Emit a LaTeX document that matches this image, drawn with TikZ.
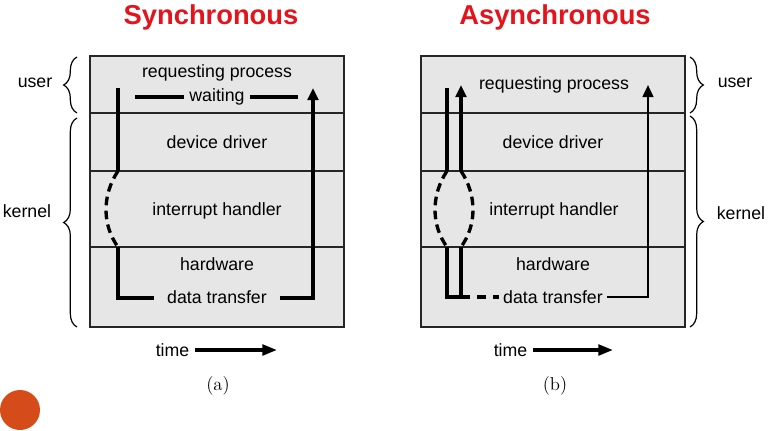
\documentclass[tikz,border=0pt]{standalone}
\usepackage{fontspec}
\newfontfamily\diagfont{Liberation Sans}
\usetikzlibrary{arrows.meta,decorations.pathreplacing}

\definecolor{titlered}{HTML}{E3141B}
\definecolor{layerfill}{HTML}{E6E6E6}
\definecolor{dotorange}{HTML}{D54B1A}

\tikzset{
  lbl/.style={font=\diagfont\fontsize{13.3}{15}\selectfont, inner sep=1pt},
  ttl/.style={font=\diagfont\bfseries\fontsize{20.5}{24}\selectfont, text=titlered},
  subcap/.style={font=\fontsize{14}{16}\selectfont},
  box/.style={fill=layerfill, draw=black!85, line width=1.5pt},
  sep/.style={draw=black!85, line width=1.1pt},
  flow/.style={line width=2.5pt},
  flowdash/.style={flow, dash pattern=on 6.5pt off 4pt},
  tip/.style={-{Triangle[length=9pt,width=8pt]}},
  brc/.style={decorate, decoration={brace, amplitude=10pt}, line width=0.9pt}
}

\begin{document}
\begin{tikzpicture}[x=0.75pt, y=-0.75pt]
  \useasboundingbox (0,0) rectangle (776,430);

  % Titulos
  \node[ttl] (sTitle) at (211,17) {Synchronous};
  \node[ttl] (aTitle) at (555,17) {Asynchronous};

  % Caja (a): capas
  \draw[box] (90,56) rectangle (344,327);
  \foreach \y in {113,171,247}
    \draw[sep] (90,\y) -- (344,\y);
  \node[lbl] (sReq)  at (217,73)  {requesting process};
  \node[lbl, inner xsep=4pt] (sWait) at (217,97) {waiting};
  \node[lbl] (sDrv)  at (217,142) {device driver};
  \node[lbl] (sIrq)  at (217,211) {interrupt handler};
  \node[lbl] (sHw)   at (217,264) {hardware};
  \node[lbl, inner xsep=10pt] (sXfer) at (217,297) {data transfer};

  % Caja (b): capas
  \draw[box] (421,56) rectangle (685,327);
  \foreach \y in {113,171,247}
    \draw[sep] (421,\y) -- (685,\y);
  \node[lbl] (aReq)  at (554,85)  {requesting process};
  \node[lbl] (aDrv)  at (553,142) {device driver};
  \node[lbl] (aIrq)  at (554,211) {interrupt handler};
  \node[lbl] (aHw)   at (553,264) {hardware};
  \node[lbl, inner xsep=3pt] (aXfer) at (553,297) {data transfer};

  % Llaves user / kernel
  \draw[brc] (77,113) -- (77,57);
  \draw[brc] (77,327) -- (77,118);
  \node[lbl] (sUser)   at (35,83)  {user};
  \node[lbl] (sKernel) at (27,211) {kernel};
  \draw[brc] (690,57) -- (690,113);
  \draw[brc] (690,116) -- (690,327);
  \node[lbl] (aUser)   at (735,83)  {user};
  \node[lbl] (aKernel) at (741,213) {kernel};

  % Flujo sincrono
  \coordinate (s0) at (118,88);
  \coordinate (s1) at (118,171);
  \coordinate (s2) at (118,247);
  \coordinate (s3) at (118,298);
  \coordinate (s4) at (313,298);
  \coordinate (s5) at (313,88);
  \coordinate (w0) at (135,97);
  \coordinate (w1) at (298,97);
  \draw[flow] (s0) -- (s1);
  \draw[flowdash] (s1) .. controls (102,195) and (102,225) .. (s2);
  \draw[flow] (s2) -- (s3) -- (sXfer.west |- s3);
  \draw[flow, tip] (sXfer.east |- s4) -- (s4) -- (s5);
  \draw[flow] (w0) -- (sWait.west |- w0);
  \draw[flow] (sWait.east |- w1) -- (w1);

  % Flujo asincrono
  \coordinate (a0) at (447,88);
  \coordinate (a1) at (447,171);
  \coordinate (a2) at (447,247);
  \coordinate (a3) at (447,297);
  \coordinate (b0) at (461,85);
  \coordinate (b1) at (461,171);
  \coordinate (b2) at (461,247);
  \coordinate (b3) at (461,297);
  \coordinate (c0) at (648,297);
  \coordinate (c1) at (648,85);
  \draw[flow] (a0) -- (a1);
  \draw[flow, tip] (b1) -- (b0);
  \draw[flowdash] (a1) .. controls (431,195) and (431,225) .. (a2);
  \draw[flowdash] (b1) .. controls (477,195) and (477,225) .. (b2);
  \draw[flow] (a2) -- (a3) -- (b3) -- (b2);
  \draw[flowdash, dash pattern=on 7pt off 5pt] (b3) -- (aXfer.west |- b3);
  \draw[line width=1.8pt, tip] (aXfer.east |- c0) -- (c0) -- (c1);

  % Ejes de tiempo
  \node[lbl, inner xsep=4pt] (sTime) at (172.5,350) {time};
  \coordinate (sTimeEnd) at (277,350);
  \draw[flow, -{Triangle[length=11pt,width=8pt]}] (sTime) -- (sTimeEnd);
  \node[lbl, inner xsep=4pt] (aTime) at (510.5,350) {time};
  \coordinate (aTimeEnd) at (613,350);
  \draw[flow, -{Triangle[length=11pt,width=8pt]}] (aTime) -- (aTimeEnd);

  % Etiquetas (a) y (b)
  \node[subcap] (capA) at (218,386) {(a)};
  \node[subcap] (capB) at (555,386) {(b)};

  % Punto naranja
  \fill[dotorange] (20,410) circle[radius=20];
\end{tikzpicture}
\end{document}
